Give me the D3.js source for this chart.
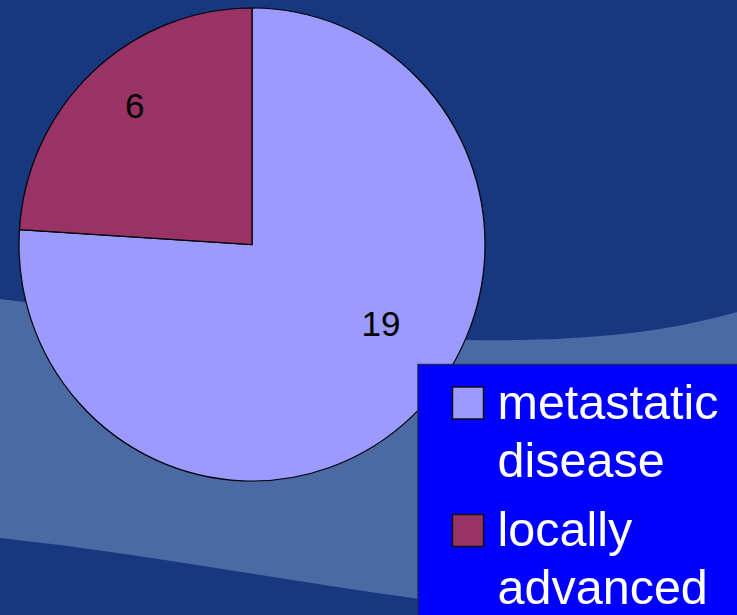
<!DOCTYPE html>
<html>
<head>
<meta charset="utf-8">
<script src="https://cdn.jsdelivr.net/npm/d3@7"></script>
<style>
  html, body { margin: 0; padding: 0; background: #17377e; }
  svg { display: block; }
  text { font-family: "Liberation Sans", Arial, sans-serif; }
</style>
</head>
<body>
<svg id="chart" width="737" height="615"></svg>
<script>
// Patient counts by disease extent
const categories = ["metastatic disease", "locally advanced"];
const values = [19, 6];
const legendLines = [["metastatic", "disease"], ["locally", "advanced"]];
const colors = ["#9b9bff", "#993366"];

const W = 737, H = 615;
const svg = d3.select("#chart");

// Slide background: dark blue with a lighter sweeping band
svg.append("rect").attr("width", W).attr("height", H).attr("fill", "#17377e");
const band = d3.path();
band.moveTo(0, 299);
band.bezierCurveTo(250, 330, 400, 342, 520, 340);
band.bezierCurveTo(620, 338, 680, 328, 737, 312);
band.lineTo(737, 660);
band.lineTo(420, 599);
band.bezierCurveTo(280, 580, 140, 553, 0, 538);
band.closePath();
svg.append("path").attr("d", band.toString()).attr("fill", "#4b69a2");

// Pie
const cx = 252, cy = 244.5, r = 233, yStretch = 236.5 / 233;
const pie = d3.pie().sort(null).value(d => d)(values);
const arc = d3.arc().innerRadius(0).outerRadius(r);

const g = svg.append("g").attr("transform", `translate(${cx},${cy}) scale(1,${yStretch})`);
g.selectAll("path.slice")
  .data(pie)
  .join("path")
  .attr("class", "slice")
  .attr("d", arc)
  .attr("fill", (d, i) => colors[i])
  .attr("stroke", "#000")
  .attr("stroke-width", 1.2)
  .attr("vector-effect", "non-scaling-stroke");

// Value labels placed inside their slices
const labelPlacement = [
  { shift: -0.277, frac: 0.645 },
  { shift: 0.045, frac: 0.773 }
];
const labelAngle = (d, i) => (d.startAngle + d.endAngle) / 2 + labelPlacement[i].shift;
svg.selectAll("text.value")
  .data(pie)
  .join("text")
  .attr("class", "value")
  .attr("x", (d, i) => cx + Math.sin(labelAngle(d, i)) * r * labelPlacement[i].frac)
  .attr("y", (d, i) => cy - Math.cos(labelAngle(d, i)) * r * labelPlacement[i].frac * yStretch)
  .attr("dy", "0.36em")
  .attr("text-anchor", "middle")
  .attr("font-size", 35)
  .attr("fill", "#000")
  .text(d => d.data);

// Legend
const legend = svg.append("g").attr("transform", "translate(418,364.5)");
legend.append("rect")
  .attr("x", 0).attr("y", 0).attr("width", 340).attr("height", 280)
  .attr("fill", "#0000ff")
  .attr("stroke", "#1a2a60")
  .attr("stroke-width", 1.5);

const item = legend.selectAll("g.item")
  .data(categories)
  .join("g")
  .attr("class", "item")
  .attr("transform", (d, i) => `translate(0,${i * 127.5})`);

item.append("rect")
  .attr("x", 34.5).attr("y", 22.5)
  .attr("width", 31).attr("height", 32)
  .attr("fill", (d, i) => colors[i])
  .attr("stroke", "#111")
  .attr("stroke-width", 1.5);

item.append("text")
  .attr("x", 79.5)
  .attr("y", 54)
  .attr("font-size", 48.5)
  .attr("fill", "#fff")
  .selectAll("tspan")
  .data((d, i) => legendLines[i])
  .join("tspan")
  .attr("x", 79.5)
  .attr("dy", (d, j) => j === 0 ? 0 : 58)
  .text(d => d);
</script>
</body>
</html>
